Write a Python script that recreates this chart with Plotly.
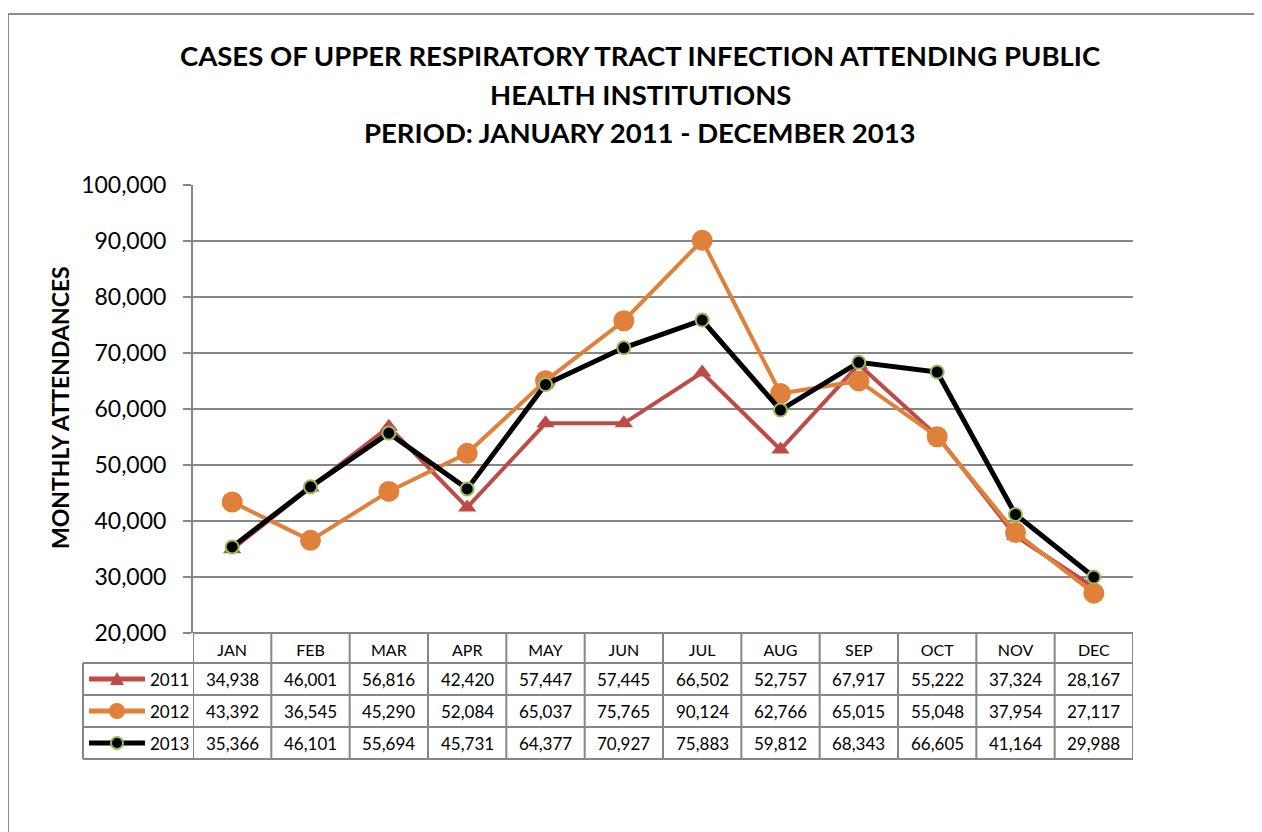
import plotly.graph_objects as go

months = ["JAN", "FEB", "MAR", "APR", "MAY", "JUN", "JUL", "AUG", "SEP", "OCT", "NOV", "DEC"]
years = ["2011", "2012", "2013"]
v2011 = [34938, 46001, 56816, 42420, 57447, 57445, 66502, 52757, 67917, 55222, 37324, 28167]
v2012 = [43392, 36545, 45290, 52084, 65037, 75765, 90124, 62766, 65015, 55048, 37954, 27117]
v2013 = [35366, 46101, 55694, 45731, 64377, 70927, 75883, 59812, 68343, 66605, 41164, 29988]
y_ticks = [20000, 30000, 40000, 50000, 60000, 70000, 80000, 90000, 100000]

series = [v2011, v2012, v2013]
line_colors = ["#BE4B48", "#E0803A", "#000000"]
marker_syms = ["triangle-up", "circle", "circle"]
marker_sizes = [16, 21, 13]
marker_line_colors = ["#BE4B48", "#E0803A", "#9BBB59"]
marker_line_widths = [0, 0, 2]
line_widths = [4, 4, 5]

FONT = "Lato"
GRID = "#868686"

# page offset (body margin)
OFF = 8
W, H = 1262 - OFF, 832 - OFF
L, R, T, B = 193 - OFF, 1133 - OFF, 185 - OFF, 633 - OFF
pw, ph = R - L, B - T


def px(x):
    # x given in screen pixels
    return (x - OFF - L) / pw


def py(y):
    return (B - (y - OFF)) / ph


fig = go.Figure()
for yr, vals, lc, ms, msz, mlc, mlw, lw in zip(years, series, line_colors, marker_syms,
                                              marker_sizes, marker_line_colors,
                                              marker_line_widths, line_widths):
    fig.add_trace(go.Scatter(
        x=months, y=vals, name=yr, mode="lines+markers",
        line=dict(color=lc, width=lw),
        marker=dict(symbol=ms, size=msz, color=lc,
                    line=dict(color=mlc, width=mlw)),
        cliponaxis=False, showlegend=False,
    ))

shapes = []
annotations = []

# table geometry (screen pixels)
row_edges = [633, 663, 695, 727, 759]
table_left = 83
table_right = 1133
plot_left = 193

shapes.append(dict(type="line", xref="paper", yref="paper", x0=px(plot_left), x1=px(table_right),
                   y0=py(row_edges[0]), y1=py(row_edges[0]), line=dict(color=GRID, width=2)))
for ye in row_edges[1:]:
    shapes.append(dict(type="line", xref="paper", yref="paper", x0=px(table_left), x1=px(table_right),
                       y0=py(ye), y1=py(ye), line=dict(color=GRID, width=2)))
shapes.append(dict(type="line", xref="paper", yref="paper", x0=px(table_left), x1=px(table_left),
                   y0=py(row_edges[1]), y1=py(row_edges[-1]), line=dict(color=GRID, width=2)))
for i in range(len(months) + 1):
    shapes.append(dict(type="line", xref="x", yref="paper", x0=i - 0.5, x1=i - 0.5,
                       y0=py(row_edges[0]), y1=py(row_edges[-1]), line=dict(color=GRID, width=2)))

for r, (yr, vals) in enumerate(zip(years, series)):
    ycp = (row_edges[r + 1] + row_edges[r + 2]) / 2
    yc = py(ycp)
    for i, v in enumerate(vals):
        annotations.append(dict(x=i, y=yc, xref="x", yref="paper", text=f"{v:,}",
                                showarrow=False, font=dict(family=FONT, size=17, color="#000"),
                                xanchor="center", yanchor="middle"))
    lx0, lx1, mx = 89, 145, 117
    shapes.append(dict(type="line", xref="paper", yref="paper", x0=px(lx0), x1=px(lx1),
                       y0=yc, y1=yc, line=dict(color=line_colors[r], width=5)))
    if r == 0:
        s = 7
        path = (f"M {px(mx - s)} {py(ycp + 6)} L {px(mx + s)} {py(ycp + 6)} "
                f"L {px(mx)} {py(ycp - 7)} Z")
        shapes.append(dict(type="path", xref="paper", yref="paper", path=path,
                           fillcolor=line_colors[r], line=dict(color=line_colors[r], width=0)))
    else:
        rad = 8 if r == 1 else 6
        shapes.append(dict(type="circle", xref="paper", yref="paper",
                           x0=px(mx - rad), x1=px(mx + rad), y0=py(ycp + rad), y1=py(ycp - rad),
                           fillcolor=line_colors[r],
                           line=dict(color=marker_line_colors[r], width=marker_line_widths[r] or 0.1)))
    annotations.append(dict(x=px(148), y=yc, xref="paper", yref="paper", text=yr,
                            showarrow=False, font=dict(family=FONT, size=17, color="#000"),
                            xanchor="left", yanchor="middle"))

# outer chart border
shapes.append(dict(type="rect", xref="paper", yref="paper", x0=px(8), x1=px(1275),
                   y0=py(845), y1=py(14), line=dict(color="#8C8C8C", width=2), layer="below"))

title_lines = ["CASES OF UPPER RESPIRATORY TRACT INFECTION ATTENDING PUBLIC",
               "HEALTH INSTITUTIONS",
               "PERIOD: JANUARY 2011 - DECEMBER 2013"]
for t, yl in zip(title_lines, [55, 94, 133]):
    annotations.append(dict(x=px(640), y=py(yl), xref="paper", yref="paper", text=f"<b>{t}</b>",
                            showarrow=False, font=dict(family=FONT, size=27.5, color="#000"),
                            xanchor="center", yanchor="middle"))

annotations.append(dict(x=px(60), y=py(408), xref="paper", yref="paper",
                        text="<b>MONTHLY ATTENDANCES</b>", textangle=-90, showarrow=False,
                        font=dict(family=FONT, size=23, color="#000"),
                        xanchor="center", yanchor="middle"))

fig.update_layout(
    width=W, height=H,
    margin=dict(l=L, r=W - R, t=T, b=H - B, pad=0),
    paper_bgcolor="white", plot_bgcolor="white",
    shapes=shapes, annotations=annotations,
    xaxis=dict(type="category", categoryarray=months, range=[-0.5, 11.5],
               showgrid=False, showline=False, ticks="",
               tickfont=dict(family=FONT, size=16, color="#000"),
               ticklabelstandoff=6, zeroline=False, fixedrange=True),
    yaxis=dict(range=[20000, 100000], tickvals=y_ticks, tickformat=",",
               showgrid=True, gridcolor=GRID, gridwidth=2,
               showline=True, linecolor=GRID, linewidth=2,
               ticks="outside", ticklen=8, tickcolor=GRID, tickwidth=2,
               ticklabelstandoff=12,
               tickfont=dict(family=FONT, size=23, color="#000"),
               zeroline=False, fixedrange=True),
    font=dict(family=FONT),
)

fig.write_html("out.html")
